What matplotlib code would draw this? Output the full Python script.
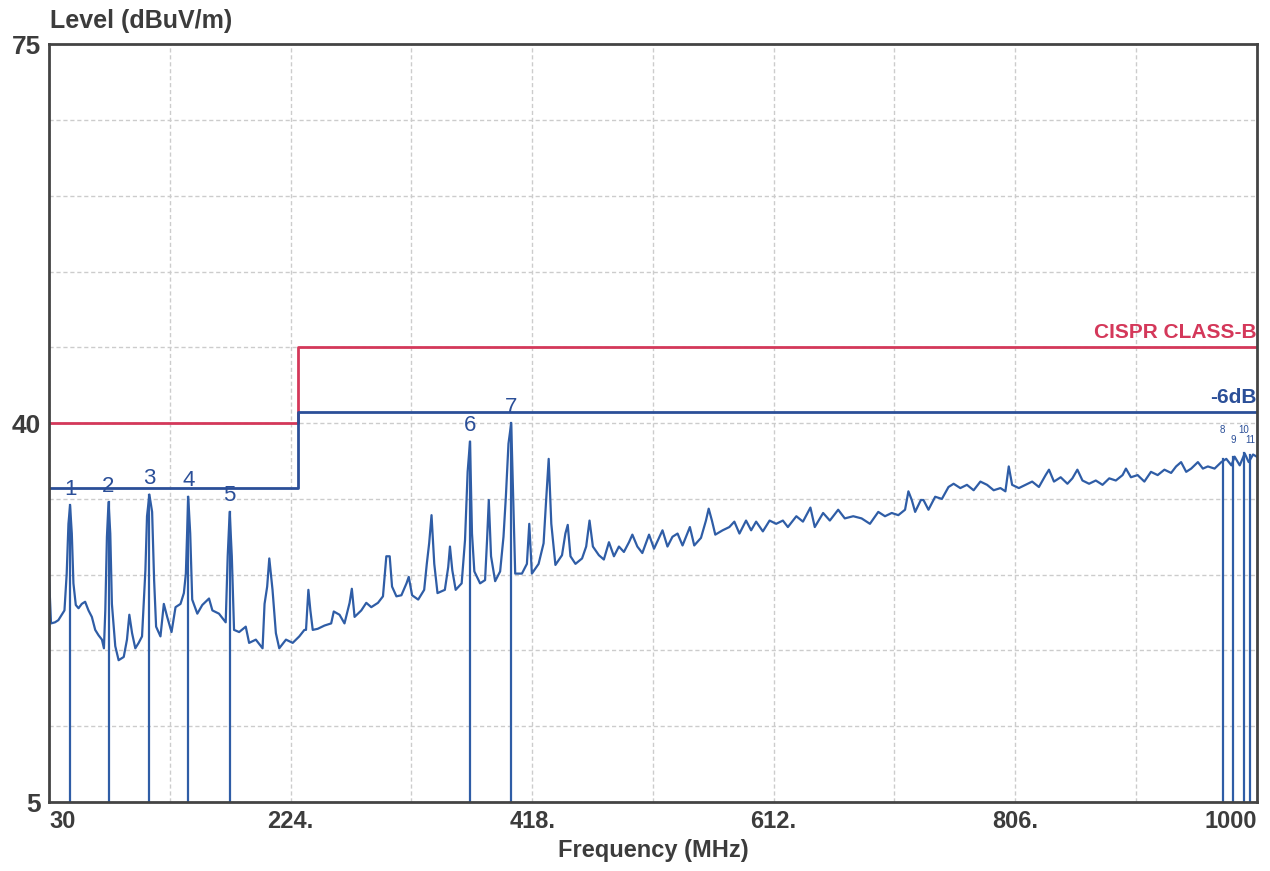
import matplotlib.pyplot as plt
import numpy as np

# trace (MHz, dBuV/m)
freq = [30.0, 31.6, 34.8, 37.5, 40.2, 42.4, 44.2, 45.6, 46.9, 48.3, 49.6, 51.5, 53.7, 56.3, 59.0,
        61.7, 64.4, 67.1, 69.8, 72.5, 74.1, 75.2, 76.5, 77.8, 79.2, 80.5, 83.2, 85.9, 90.0, 92.6,
        94.5, 96.7, 99.3, 102.0, 104.7, 107.4, 108.7, 110.6, 112.8, 114.4, 116.0, 119.5, 122.2,
        124.9, 128.4, 131.6, 135.6, 138.3, 139.9, 141.8, 143.4, 145.0, 149.1, 153.1, 158.5,
        161.2, 166.5, 171.9, 173.5, 175.1, 176.8, 178.6, 182.7, 188.0, 190.7, 196.1, 201.5,
        203.1, 205.2, 206.9, 209.5, 212.2, 214.9, 220.3, 225.7, 231.0, 235.1,
        236.4, 238.3, 239.9, 241.8, 245.8, 251.2, 256.6, 258.7, 263.3, 267.3, 271.4, 273.2,
        275.4, 280.8, 284.8, 288.8, 294.2, 298.2, 300.9, 303.6, 305.5, 309.0, 313.0, 317.1,
        318.9, 321.6, 326.5, 331.3, 333.4, 335.3, 337.2, 339.4, 342.0, 347.9, 350.6, 352.0,
        353.9, 356.6, 361.4, 364.1, 366.2, 368.1, 369.7, 371.6, 376.2, 380.2, 381.8, 383.2,
        385.0, 388.3, 392.3, 395.0, 396.9, 399.0, 401.2, 402.8, 404.4, 409.8, 413.8, 415.7,
        417.8, 423.2, 427.2, 429.1, 431.3, 433.4, 436.7, 442.0, 444.7, 446.6, 448.8, 452.8,
        458.1, 461.4, 464.1, 466.8, 471.6,
        475.6, 479.7, 483.7, 487.7, 491.7, 495.8, 498.5, 502.5, 506.5, 511.9, 515.9, 522.7,
        526.7, 530.7, 534.8, 538.8, 544.7, 548.2, 553.6, 557.6, 559.8, 562.4, 565.1, 571.0,
        576.4, 580.4, 584.5, 589.8, 593.9, 597.9, 603.3, 608.7, 614.0, 619.4, 623.4, 630.2,
        635.5, 641.5, 645.0, 651.7, 657.1, 663.8, 669.1, 675.9, 682.6, 689.3, 696.0, 701.4,
        706.8, 712.1, 717.5, 720.2, 722.9, 725.6, 730.2,
        732.3, 736.3, 741.7, 747.1, 752.4, 756.5, 761.9, 767.2, 772.6, 778.0, 783.4, 788.7,
        794.1, 798.1, 800.8, 803.5, 808.9, 814.3, 819.6, 825.0, 830.4, 833.1, 837.1, 842.5,
        847.9, 851.9, 855.9, 860.0, 865.3, 870.7, 876.1, 881.5, 886.8, 892.2, 894.9, 898.9,
        904.3, 909.7, 915.0, 920.4, 925.8, 931.2, 935.2, 939.2, 943.3, 947.3, 952.7, 956.7,
        960.7, 966.1, 971.5, 975.5, 979.6, 982.2, 986.3, 990.3, 993.5, 997.0, 1000.0]
level = [25.8, 21.5, 21.6, 21.8, 22.3, 22.7, 26.1, 30.7, 32.4, 29.8, 25.2, 23.2, 22.9, 23.3, 23.5,
         22.7, 22.1, 20.9, 20.4, 20.0, 19.2, 22.7, 29.5, 32.7, 29.8, 23.3, 19.4, 18.1, 18.4, 20.0,
         22.3, 20.6, 19.2, 19.7, 20.3, 26.4, 31.4, 33.4, 31.8, 25.5, 21.2, 20.3, 23.3,
         22.1, 20.7, 23.0, 23.3, 24.3, 26.1, 33.2, 29.8, 23.7, 22.4, 23.2, 23.8,
         22.7, 22.4, 21.6, 27.7, 31.8, 27.7, 20.9, 20.7, 21.2, 19.7, 20.0, 19.2,
         23.3, 24.9, 27.5, 24.6, 20.6, 19.2, 20.0, 19.7, 20.3, 20.9,
         20.9, 24.6, 22.7, 20.9, 21.0, 21.3, 21.5, 22.6, 22.3, 21.5, 23.4, 24.7,
         22.1, 22.7, 23.4, 23.0, 23.4, 24.0, 27.7, 27.7, 24.9, 24.0, 24.1, 25.2,
         25.8, 24.1, 23.7, 24.6, 27.0, 28.9, 31.5, 27.0, 24.3, 24.6, 26.7, 28.6,
         26.4, 24.6, 25.2, 29.2, 35.5, 38.3, 29.8, 26.3, 25.2, 25.5, 29.2, 32.9,
         27.7, 25.4, 26.3, 29.5, 33.2, 38.1, 40.0, 32.9, 26.1, 26.1, 27.0, 30.7,
         26.1, 27.0, 28.9, 32.6, 36.7, 30.7, 26.9, 27.8, 29.8, 30.6, 27.7, 27.0,
         27.5, 28.6, 31.0, 28.6, 27.8,
         27.4, 29.0, 27.7, 28.6, 28.1, 29.0, 29.7, 28.6, 28.0, 29.7, 28.4, 30.1,
         28.6, 29.5, 29.8, 28.7, 30.4, 28.7, 29.4, 31.0, 32.1, 31.0, 29.7, 30.1,
         30.4, 30.9, 29.8, 31.0, 30.1, 30.9, 30.0, 31.0, 30.7, 31.0, 30.4, 31.4,
         30.9, 32.2, 30.4, 31.7, 31.0, 32.0, 31.2, 31.4, 31.2, 30.7, 31.8, 31.4,
         31.7, 31.5, 32.0, 33.7, 32.9, 31.8, 32.9,
         32.9, 32.0, 33.2, 33.0, 34.1, 34.4, 34.0, 34.3, 33.8, 34.6, 34.3, 33.8,
         34.0, 33.7, 36.0, 34.3, 34.0, 34.3, 34.6, 34.1, 35.2, 35.7, 34.6, 35.0,
         34.4, 34.9, 35.7, 34.7, 34.4, 34.7, 34.3, 34.9, 34.7, 35.2, 35.8, 35.0,
         35.2, 34.6, 35.5, 35.2, 35.7, 35.4, 36.0, 36.4, 35.5, 35.8, 36.4, 35.8,
         36.0, 35.8, 36.4, 36.7, 36.1, 36.9, 36.1, 37.2, 36.4, 37.1, 36.9]

# limit lines
limit_f = [30, 230, 230, 1000]
limit_b = [40, 40, 47, 47]
limit_6db = [34, 34, 41, 41]

# markers
mark_f = [46.9, 77.8, 110.6, 141.8, 175.1, 368.1, 401.2, 972.6, 980.7, 989.5, 994.4]
mark_lv = [32.4, 32.7, 33.4, 33.2, 31.8, 38.3, 40.0, 36.7, 36.9, 37.2, 37.1]
mark_txt = ['1', '2', '3', '4', '5', '6', '7', '8', '9', '10', '11']

xticks = [30, 224, 418, 612, 806, 1000]
xtick_txt = ['30', '224.', '418.', '612.', '806.', '1000']
yticks = [5, 40, 75]

blue = '#2f5da6'
red = '#d4385a'
txt = '#3c3c3c'
sans = ['Liberation Sans', 'DejaVu Sans']

fig = plt.figure(figsize=(12.7, 8.71), dpi=100)
ax = fig.add_axes([0.0386, 0.0792, 0.951, 0.870])

ax.plot(freq, level, color=blue, lw=1.6)
ax.plot(limit_f, limit_b, color=red, lw=2)
ax.plot(limit_f, limit_6db, color='#2b4f98', lw=2)

for i, (f, lv, t) in enumerate(zip(mark_f, mark_lv, mark_txt)):
    ax.plot([f, f], [5, lv], color=blue, lw=1.6)
    if f > 900:
        # crowded markers at the top end, small labels in a staggered row
        ax.text(f, 38.0 + 0.9 * (i % 2), t, ha='center', va='bottom',
                color='#2b4f98', fontsize=7, family=sans)
    else:
        ax.text(f, lv + 0.5, t, ha='center', va='bottom', color='#2b4f98',
                fontsize=16, family=sans)

ax.text(1000, 47.5, 'CISPR CLASS-B', ha='right', va='bottom', color=red,
        fontsize=15, fontweight='bold', family=sans)
ax.text(1000, 41.5, '-6dB', ha='right', va='bottom', color='#2b4f98',
        fontsize=15, fontweight='bold', family=sans)

ax.set_xlim(30, 1000)
ax.set_ylim(5, 75)
ax.set_xticks(np.arange(30, 1001, 97), minor=True)
ax.set_yticks(np.arange(5, 76, 7), minor=True)
ax.set_xticks(xticks)
ax.set_xticklabels(xtick_txt)
ax.set_yticks(yticks)
ax.set_yticklabels([str(v) for v in yticks])
ax.grid(which='both', color='#cccccc', ls=(0, (3, 2)), lw=1)
ax.tick_params(which='both', length=0, pad=6)
for lab in ax.get_xticklabels():
    lab.set_fontsize(17)
    lab.set_fontweight('bold')
    lab.set_family(sans)
    lab.set_color(txt)
for lab in ax.get_yticklabels():
    lab.set_fontsize(19)
    lab.set_fontweight('bold')
    lab.set_family(sans)
    lab.set_color(txt)
ax.get_xticklabels()[0].set_ha('left')
ax.get_xticklabels()[-1].set_ha('right')

for s in ax.spines.values():
    s.set_color('#444444')
    s.set_linewidth(2)

ax.set_xlabel('Frequency (MHz)', fontsize=17, fontweight='bold', color=txt,
              family=sans, labelpad=4)
fig.text(0.0394, 0.962, 'Level (dBuV/m)', fontsize=18, fontweight='bold', color=txt,
         family=sans, ha='left', va='bottom')

fig.savefig('out.png', dpi=100)
